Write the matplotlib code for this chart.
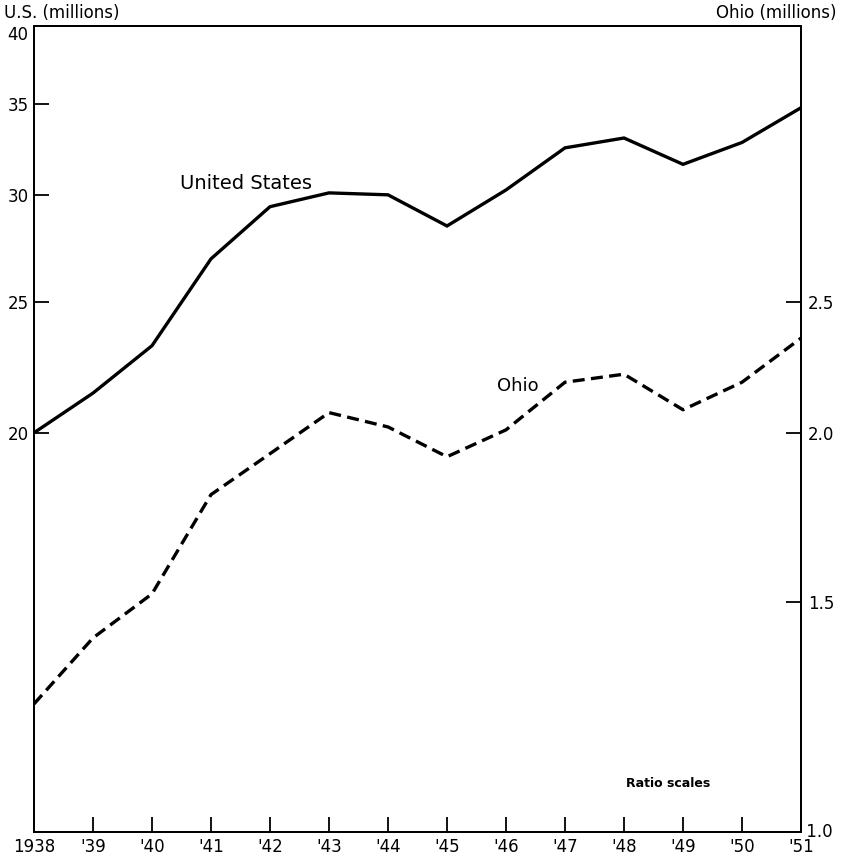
import matplotlib
matplotlib.use('Agg')
import matplotlib.pyplot as plt
from matplotlib.ticker import FixedLocator, NullLocator

years = [1938, 1939, 1940, 1941, 1942, 1943, 1944, 1945, 1946, 1947, 1948, 1949, 1950, 1951]
year_labels = ['1938', "'39", "'40", "'41", "'42", "'43", "'44", "'45", "'46", "'47", "'48", "'49", "'50", "'51"]
us_millions = [20.0, 21.4, 23.2, 26.9, 29.4, 30.1, 30.0, 28.45, 30.25, 32.5, 33.05, 31.6, 32.8, 34.8]
ohio_millions = [1.26, 1.41, 1.52, 1.80, 1.93, 2.07, 2.02, 1.92, 2.01, 2.18, 2.21, 2.08, 2.18, 2.35]
us_ticks = [20, 25, 30, 35, 40]
ohio_ticks = [1.5, 2.0, 2.5]

plt.rcParams['font.family'] = ['DejaVu Sans']

fig = plt.figure(figsize=(8.43, 8.59), dpi=100)
ax = fig.add_axes([34 / 843, 27 / 859, 767 / 843, 806 / 859])
ax2 = ax.twinx()

ax.plot(years, us_millions, color='black', lw=2.4, solid_joinstyle='miter')
ax2.plot(years, ohio_millions, color='black', lw=2.4, dashes=(3.6, 1.9))

ax.set_yscale('log')
ax2.set_yscale('log')
ax.set_ylim(10.13, 40)
ax2.set_ylim(1.013, 4.0)
ax.set_xlim(1938, 1951)

ax.yaxis.set_major_locator(FixedLocator(us_ticks))
ax.yaxis.set_minor_locator(NullLocator())
ax.set_yticklabels([str(t) for t in us_ticks])
ax2.yaxis.set_major_locator(FixedLocator(ohio_ticks))
ax2.yaxis.set_minor_locator(NullLocator())
ax2.set_yticklabels([f'{t:.1f}' for t in ohio_ticks])

ax.set_xticks(years)
ax.set_xticklabels(year_labels)

ax.tick_params(axis='both', direction='in', length=11, width=1.3, labelsize=12, color='black')
ax.tick_params(axis='y', pad=4)
ax.tick_params(axis='x', pad=4)
ax2.tick_params(axis='y', direction='in', length=11, width=1.3, labelsize=12, pad=5)

# top label sits just under the frame line, as in the original
for lbl in ax.get_yticklabels():
    if lbl.get_text() == '40':
        lbl.set_verticalalignment('top')

for a in (ax, ax2):
    for s in a.spines.values():
        s.set_linewidth(1.4)

ax2.text(1.0, 0.0, ' 1.0', transform=ax2.transAxes, ha='left', va='center', fontsize=12)

ax.text(1941.6, 30.6, 'United States', ha='center', va='center', fontsize=14)
ax.text(1946.2, 21.66, 'Ohio', ha='center', va='center', fontsize=13)
ax.text(1948.75, 11.0, 'Ratio scales', ha='center', va='center', fontsize=9, fontweight='bold')

fig.text(4 / 843, 1 - 13 / 859, 'U.S. (millions)', ha='left', va='center', fontsize=12)
fig.text(836 / 843, 1 - 13 / 859, 'Ohio (millions)', ha='right', va='center', fontsize=12)

plt.savefig('out.png', dpi=100)
